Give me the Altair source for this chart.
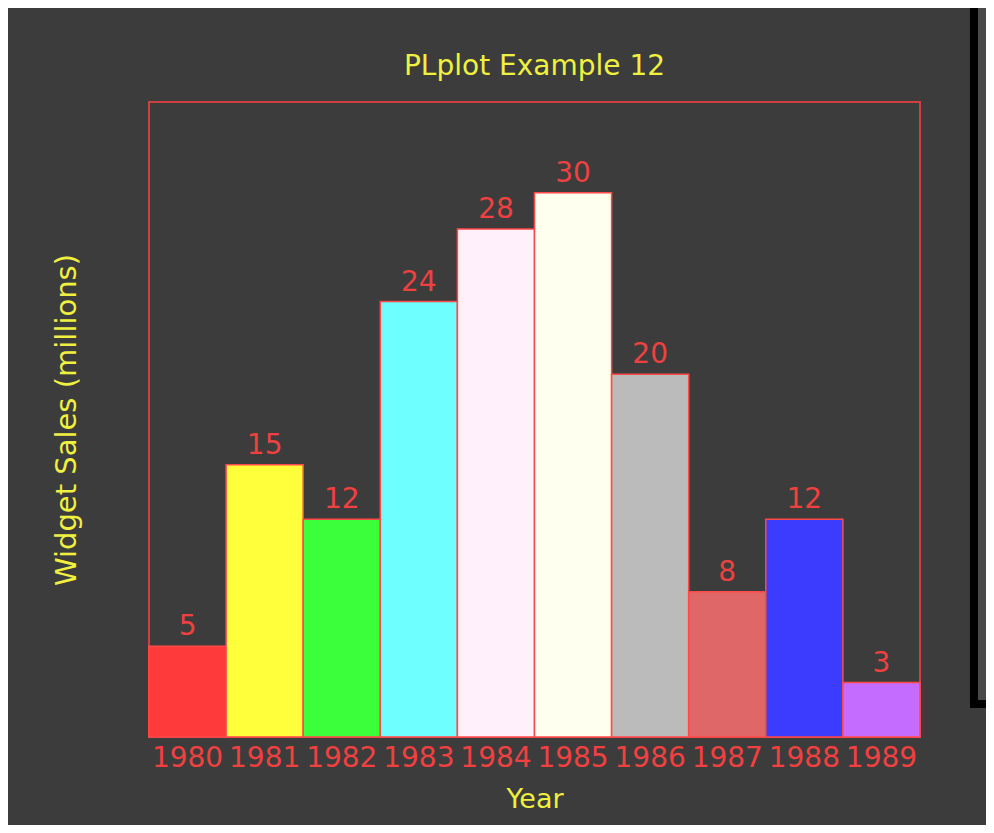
import altair as alt
import pandas as pd

years = ["1980", "1981", "1982", "1983", "1984", "1985", "1986", "1987", "1988", "1989"]
sales = [5, 15, 12, 24, 28, 30, 20, 8, 12, 3]
bar_colors = ["#ff3a3a", "#ffff3c", "#3cff3c", "#6effff", "#fff0fc",
              "#fffff0", "#bbbbbb", "#e06767", "#3c3cff", "#c46cff"]
title_text = "PLplot Example 12"

df = pd.DataFrame({"year": years, "sales": sales, "color": bar_colors})

FONT = "DejaVu Sans"
RED = "#f04040"
YELLOW = "#f0f040"

W, H = 771, 635

x = alt.X("year:N", sort=years,
          scale=alt.Scale(paddingInner=0, paddingOuter=0),
          axis=alt.Axis(title="Year", domain=False, ticks=False, grid=False,
                        labelAngle=0, labelColor=RED, labelFontSize=28,
                        labelFont=FONT, labelPadding=7,
                        titleColor=YELLOW, titleFont=FONT, titleFontSize=27,
                        titleFontWeight="normal", titlePadding=14))
y = alt.Y("sales:Q", scale=alt.Scale(domain=[0, 35], nice=False),
          axis=alt.Axis(title="Widget Sales (millions)", labels=False, ticks=False,
                        domain=False, grid=False, titleColor=YELLOW, titleFont=FONT,
                        titleFontSize=29, titleFontWeight="normal", titlePadding=68))

bars = alt.Chart(df).mark_bar(stroke="#ff4848", strokeWidth=1.5).encode(
    x=x, y=y, color=alt.Color("color:N", scale=None)
)

labels = alt.Chart(df).mark_text(baseline="bottom", dy=-5, fontSize=28,
                                 font=FONT, color=RED).encode(
    x=alt.X("year:N", sort=years), y="sales:Q", text="sales:Q"
)

title = alt.Chart(pd.DataFrame({"t": [title_text]})).mark_text(
    fontSize=28, font=FONT, color=YELLOW, baseline="alphabetic", align="center"
).encode(x=alt.value(W / 2), y=alt.value(-27), text="t:N")

# decorative window-frame strip at the right edge of the screenshot
frame_black = alt.Chart(pd.DataFrame({"k": [0]})).mark_rect(color="#000000").encode(
    x=alt.value(821), x2=alt.value(837), y=alt.value(-94), y2=alt.value(606)
)
frame_panel = alt.Chart(pd.DataFrame({"k": [0]})).mark_rect(color="#4a4a4a").encode(
    x=alt.value(829), x2=alt.value(837), y=alt.value(-94), y2=alt.value(598)
)

chart = alt.layer(bars, labels, title, frame_black, frame_panel).properties(
    width=W, height=H,
    autosize=alt.AutoSizeParams(type="none"),
    padding={"left": 141, "top": 94, "right": 66, "bottom": 88},
).configure(background="#3c3c3c").configure_view(
    stroke="#d04040", strokeWidth=2
)

chart.save("out.html", embed_options={"renderer": "svg", "actions": False})
